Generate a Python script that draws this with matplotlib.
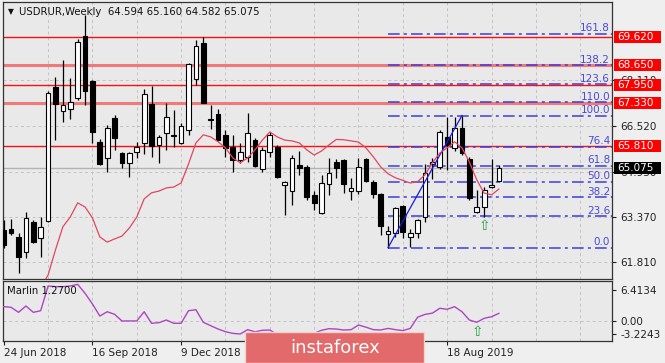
import numpy as np
import matplotlib
matplotlib.use('Agg')
import matplotlib.pyplot as plt
import matplotlib.transforms as mtransforms
from matplotlib.patches import Rectangle

# ---------------- data ----------------
opens = [62.91, 62.94, 62.66, 62.14, 63.19, 62.63, 63.22, 67.87, 67.04, 67.11,
         67.49, 69.65, 68.08, 65.97, 65.41, 66.80, 65.58, 65.24, 65.62, 65.93,
         67.28, 65.86, 66.28, 66.17, 65.93, 66.38, 68.15, 69.40, 66.73, 66.94,
         66.21, 65.79, 65.34, 65.45, 66.03, 65.02, 65.62, 65.79, 64.47, 64.26,
         65.17, 65.10, 64.12, 63.50, 64.50, 65.27, 65.34, 64.26, 64.26, 65.38,
         64.58, 64.15, 62.76, 62.80, 63.74, 62.67, 62.80, 63.36, 65.20, 65.10,
         66.14, 65.76, 66.45, 65.38, 63.53, 63.71, 64.40, 64.594]
highs = [63.26, 63.29, 62.81, 63.53, 63.26, 63.36, 67.74, 68.22, 68.81, 68.19,
         69.54, 70.38, 68.12, 66.07, 66.56, 66.90, 65.62, 65.62, 65.96, 67.80,
         67.91, 66.21, 67.32, 67.08, 66.63, 68.71, 69.51, 69.61, 67.25, 67.11,
         66.38, 66.21, 65.93, 66.97, 66.10, 65.79, 66.31, 65.86, 64.61, 65.51,
         65.65, 65.17, 64.26, 64.82, 65.41, 65.38, 65.38, 64.71, 65.41, 65.41,
         64.64, 64.19, 63.04, 63.71, 63.78, 62.95, 63.29, 65.20, 65.41, 66.38,
         66.83, 66.83, 66.88, 65.45, 64.30, 64.40, 65.38, 65.160]
lows = [62.29, 62.74, 61.42, 61.94, 62.46, 61.97, 63.19, 66.03, 66.66, 66.77,
        67.42, 67.25, 65.93, 65.17, 64.93, 65.69, 65.06, 64.75, 65.41, 65.55,
        65.45, 65.24, 65.69, 65.79, 65.90, 66.21, 67.94, 67.30, 66.42, 66.00,
        65.45, 64.93, 65.24, 65.27, 65.10, 64.93, 65.45, 64.71, 63.43, 63.78,
        64.82, 63.95, 63.60, 63.47, 64.12, 64.71, 64.19, 63.95, 64.15, 64.58,
        64.02, 62.74, 62.30, 62.67, 62.63, 62.32, 62.63, 63.19, 64.68, 65.02,
        64.99, 65.65, 65.51, 63.95, 63.50, 63.37, 64.36, 64.582]
closes = [62.39, 62.81, 61.97, 63.33, 62.49, 63.01, 67.67, 67.28, 67.25, 67.36,
          69.44, 67.74, 66.31, 65.20, 66.45, 66.10, 65.24, 65.58, 65.79, 67.63,
          65.83, 66.14, 66.83, 66.21, 66.52, 68.67, 69.30, 67.32, 66.76, 66.03,
          65.76, 65.34, 65.62, 66.28, 65.13, 65.69, 66.21, 64.75, 64.58, 65.41,
          65.06, 64.05, 63.84, 64.54, 64.89, 65.06, 64.50, 64.37, 65.10, 64.61,
          64.15, 63.04, 62.87, 63.67, 62.84, 62.81, 63.26, 64.89, 65.27, 66.31,
          65.86, 66.45, 65.58, 64.02, 63.71, 64.30, 64.47, 65.075]

ma_start = 5
ma_values = [60.90, 61.35, 62.22, 63.02, 63.36, 63.85, 63.71, 63.33, 62.67, 62.49,
             62.60, 62.70, 62.98, 63.36, 63.99, 64.20, 64.26, 64.37, 64.40, 64.54,
             65.20, 65.93, 66.21, 66.14, 65.97, 65.76, 65.41, 65.24, 65.41, 65.69,
             66.03, 66.31, 66.14, 66.03, 66.00, 65.93, 65.69, 65.51, 65.65, 65.86,
             66.05, 66.04, 66.00, 65.96, 65.76, 65.45, 65.10, 64.86, 64.72, 64.63,
             64.54, 64.59, 64.82, 65.24, 65.58, 65.76, 65.97, 65.76, 65.27, 64.65,
             64.19, 64.13, 64.33]

marlin = [2.29, 2.19, 1.38, 2.40, 1.38, 1.64, 5.61, 5.50, 5.50, 5.61,
          5.88, 4.44, 2.72, 0.79, 1.48, 1.06, -0.01, 0.00, 0.00, 1.48,
          -0.38, -0.28, 0.15, -0.38, -0.38, 1.64, 1.80, -0.22, -0.76, -1.30,
          -1.73, -2.00, -2.10, -1.40, -1.75, -1.50, -1.46, -2.20, -2.60, -2.30,
          -2.10, -2.30, -2.00, -1.50, -1.25, -1.30, -1.46, -1.40, -0.65, -1.00,
          -1.40, -1.45, -1.20, -1.40, -1.55, -1.20, 0.60, 1.05, 1.25, 2.03,
          1.87, 2.29, 1.48, 0.15, -0.22, 0.42, 0.68, 1.22]

red_levels = [69.620, 68.650, 67.950, 67.330, 65.810]
red_thick = [False, True, False, True, False]
red_labels = ['69.620', '68.650', '67.950', '67.330', '65.810']

fib_low, fib_high = 62.30, 66.88
fib_low_idx, fib_high_idx = 52, 62
fib_ratios = [0.0, 23.6, 38.2, 50.0, 61.8, 76.4, 100.0, 110.0, 123.6, 138.2, 161.8]

price_ticks = [61.810, 63.370, 64.930, 66.520, 68.110]
last_price = 65.075

# labels at 3 Mar 2019 and 26 May 2019 are hidden by the watermark in the reference
date_tick_idx = [0, 12, 24, 36, 48, 60]
date_tick_labels = ['24 Jun 2018', '16 Sep 2018', '9 Dec 2018', '', '', '18 Aug 2019']

marlin_max, marlin_min = 6.4134, -3.2243

# ---------------- layout ----------------
W, H = 665, 363
fig = plt.figure(figsize=(W / 100, H / 100), dpi=100)
fig.patch.set_facecolor('#efefef')
plt.rcParams['font.family'] = ['DejaVu Sans']

L, R = 3, 612
ax = fig.add_axes([L / W, 1 - 279 / H, (R - L) / W, (279 - 2) / H])
ax2 = fig.add_axes([L / W, 1 - 341 / H, (R - L) / W, (341 - 281) / H])
bg = '#e9e9e9'
for a in (ax, ax2):
    a.set_facecolor(bg)
    for s in a.spines.values():
        s.set_color('#333333')
        s.set_linewidth(0.9)

n = len(opens)
x = np.arange(n)
o = np.array(opens); h = np.array(highs); l = np.array(lows); c = np.array(closes)

xmin, xmax = -0.1, 82.3
ymin, ymax = 61.21, 70.818
ax.set_xlim(xmin, xmax)
ax.set_ylim(ymin, ymax)

grid_kw = dict(color='#c2c2c2', lw=0.7, linestyles=[(0, (3, 3))], zorder=0.5)
ax.hlines(price_ticks, xmin, xmax, **grid_kw)
ax.vlines(np.arange(6, 83, 6), ymin, ymax, **grid_kw)

# bid line
ax.axhline(last_price, color='#b3b3b3', lw=1.0, zorder=1)

# red horizontal levels
for lev, thick in zip(red_levels, red_thick):
    if thick:
        ax.axhline(lev, color='#f07a7a', lw=2.2, zorder=1.2)
    else:
        ax.axhline(lev, color='#ff1010', lw=1.0, zorder=1.3)

# fibonacci
rng = fib_high - fib_low
fib_prices = [fib_low + r / 100 * rng for r in fib_ratios]
ax.hlines(fib_prices, fib_low_idx, xmax, colors='#3a3ad8', lw=1.2,
          linestyles=[(0, (7, 2.5, 1.8, 2.5))], zorder=1.4, alpha=0.9)
bt = mtransforms.blended_transform_factory(ax.transAxes, ax.transData)
for r, p in zip(fib_ratios, fib_prices):
    ax.text(0.997, p + 0.02, f'{r:.1f}', transform=bt,
            ha='right', va='bottom', fontsize=7.5, color='#4a4ad6', zorder=2)
ax.plot([fib_low_idx, fib_high_idx], [fib_low, fib_high], color='#1a1ae6', lw=0.9, zorder=5)

# candles
ax.vlines(x, l, h, color='black', lw=0.9, zorder=3)
body_bottom = np.minimum(o, c)
body_h = np.maximum(np.abs(c - o), 0.03)
ax.bar(x, body_h, bottom=body_bottom, width=0.64,
       color=np.where(c >= o, 'white', 'black'), edgecolor='black', lw=0.8, zorder=4)

# moving average
ma_x = np.arange(ma_start, ma_start + len(ma_values))
ax.plot(ma_x, ma_values, color='#e2465e', lw=0.9, zorder=6)

# arrow
ax.text(65, 63.05, '\u21e7', color='#20a040', fontsize=10, ha='center', va='center', zorder=7)

# right axis ticks
ax.yaxis.tick_right()
ax.set_yticks(price_ticks)
ax.set_yticklabels([f'{t:.3f}' for t in price_ticks])
ax.tick_params(axis='y', direction='out', length=3, pad=3, labelsize=7.5, colors='#222222')
ax.set_xticks([])

box_w = 47 / (R - L)
box_h = 12 / 28.83
for lev, lab in zip(red_levels, red_labels):
    ax.add_patch(Rectangle((1.003, lev - box_h / 2), box_w, box_h, transform=bt,
                           facecolor='#ff0000', edgecolor='none', clip_on=False, zorder=8))
    ax.text(1.003 + 0.006, lev, lab, transform=bt, color='white', fontsize=7.5,
            ha='left', va='center', clip_on=False, zorder=9)
ax.add_patch(Rectangle((1.003, last_price - box_h / 2), box_w, box_h, transform=bt,
                       facecolor='#000000', edgecolor='none', clip_on=False, zorder=8))
ax.text(1.003 + 0.006, last_price, f'{last_price:.3f}', transform=bt, color='white', fontsize=7.5,
        ha='left', va='center', clip_on=False, zorder=9)

# header
ax.text(0.008, 0.965, '\u25bc', transform=ax.transAxes, fontsize=5.5, ha='left', va='center', color='#111111')
ax.text(0.027, 0.965, 'USDRUR,Weekly  64.594 65.160 64.582 65.075', transform=ax.transAxes,
        fontsize=7.3, ha='left', va='center', color='#111111')

# ---------------- indicator ----------------
ax2.set_xlim(xmin, xmax)
ax2.set_ylim(marlin_min, marlin_max)
ax2.hlines([0], xmin, xmax, **grid_kw)
ax2.vlines(np.arange(6, 83, 6), marlin_min, marlin_max, **grid_kw)
ax2.plot(x, marlin, color='#ad45c2', lw=1.0, zorder=3)
ax2.text(64.1, -1.78, '\u21e7', color='#20a040', fontsize=10, ha='center', va='center', zorder=7)
ax2.text(0.007, 0.83, 'Marlin 1.2700', transform=ax2.transAxes, fontsize=7.3,
         ha='left', va='center', color='#111111')

ax2.yaxis.tick_right()
ax2.set_yticks([marlin_max - 9 / 60 * (marlin_max - marlin_min), 0.0, marlin_min + 7 / 60 * (marlin_max - marlin_min)])
ax2.set_yticklabels([f'{marlin_max:.4f}', '0.00', f'{marlin_min:.4f}'])
ax2.tick_params(axis='y', direction='out', length=3, pad=3, labelsize=7.5, colors='#222222')

ax2.set_xticks(date_tick_idx)
ax2.set_xticklabels(date_tick_labels)
for t in ax2.get_xticklabels():
    t.set_ha('left')
ax2.tick_params(axis='x', direction='out', length=3, pad=2, labelsize=7.5, colors='#222222')

# watermark
fig.add_artist(Rectangle((245 / W, 0), 179 / W, 31.5 / H, transform=fig.transFigure,
                         facecolor='#e26a6a', edgecolor='#f6d0d0', lw=1.0, zorder=10))
fig.text(335 / W, 1 - 348 / H, 'instaforex', color='white', fontsize=13,
         ha='center', va='center', zorder=11)

fig.savefig('out.png', dpi=100, facecolor=fig.get_facecolor())
